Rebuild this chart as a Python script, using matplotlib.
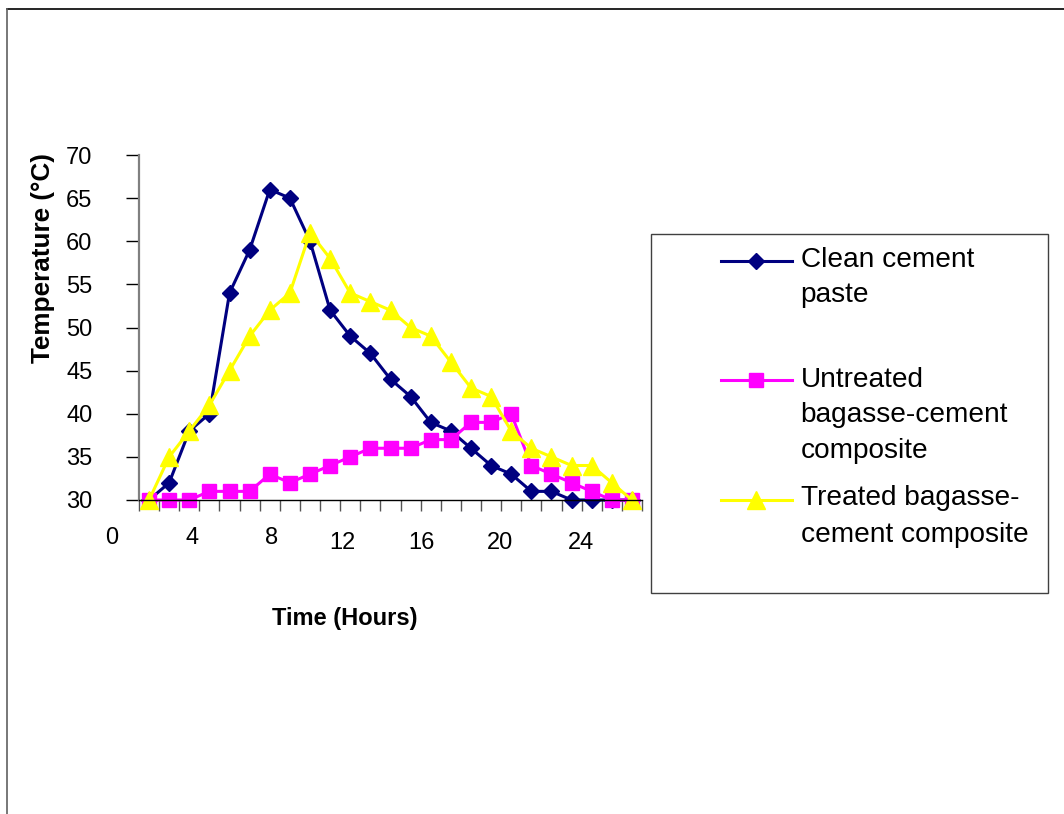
import matplotlib
matplotlib.use("Agg")
import matplotlib.pyplot as plt
from matplotlib.lines import Line2D
from matplotlib.patches import Rectangle

plt.rcParams['font.family'] = ['Liberation Sans', 'DejaVu Sans']

# ---- data ----
clean_cement = [30, 32, 38, 40, 54, 59, 66, 65, 60, 52, 49, 47, 44, 42, 39, 38,
                36, 34, 33, 31, 31, 30, 30, 30, 30]
untreated = [30, 30, 30, 31, 31, 31, 33, 32, 33, 34, 35, 36, 36, 36, 37, 37,
             39, 39, 40, 34, 33, 32, 31, 30, 30]
treated = [30, 35, 38, 41, 45, 49, 52, 54, 61, 58, 54, 53, 52, 50, 49, 46,
           43, 42, 38, 36, 35, 34, 34, 32, 30]
x_tick_labels = ["0", "4", "8", "12", "16", "20", "24"]
y_ticks = [30, 35, 40, 45, 50, 55, 60, 65, 70]
series_names = ["Clean cement\npaste",
                "Untreated\nbagasse-cement\ncomposite",
                "Treated bagasse-\ncement composite"]

W, H = 1064, 814
fig = plt.figure(figsize=(W / 100, H / 100), dpi=100)

def fx(px):
    return px / W

def fy(py):
    return 1 - py / H

ax_l, ax_r, ax_t, ax_b = 139, 642, 155, 500
ax = fig.add_axes([fx(ax_l), fy(ax_b), fx(ax_r) - fx(ax_l), (ax_b - ax_t) / H])

n = len(clean_cement)
xs = [i + 0.5 for i in range(n)]
colors = ["#000080", "#FF00FF", "#FFFF00"]
markers = ["D", "s", "^"]
msizes = [8.5, 9.5, 12.5]
for vals, c, m, ms in zip([clean_cement, untreated, treated], colors, markers, msizes):
    ax.plot(xs, vals, color=c, lw=2.2, marker=m, markersize=ms,
            markerfacecolor=c, markeredgecolor=c, clip_on=False)

ax.set_xlim(0, n)
ax.set_ylim(30, 70)
ax.set_xticks(range(0, n + 1))
ax.set_xticklabels([])
ax.set_yticks(y_ticks)
ax.set_yticklabels([str(v) for v in y_ticks], fontsize=17)
ax.tick_params(axis='y', direction='out', length=9.5, width=1, color='black', pad=24)
ax.tick_params(axis='x', direction='out', length=8, width=1, color='#555555')
for s in ['top', 'right']:
    ax.spines[s].set_visible(False)
ax.spines['left'].set_color('#808080')
ax.spines['left'].set_linewidth(1.6)
ax.spines['bottom'].set_color('black')
ax.spines['bottom'].set_linewidth(1.0)

# x tick labels as placed in the original
lab_px = [(111.7, 537.7), (192.3, 537.7), (271.7, 537.7), (342.7, 543),
          (421.7, 543), (500, 543), (580.7, 543)]
for lab, (px, py) in zip(x_tick_labels, lab_px):
    fig.text(fx(px), fy(py), lab, fontsize=17, ha='center', va='center')

# axis titles
fig.text(fx(345), fy(619), "Time (Hours)", fontsize=17, fontweight='bold',
         ha='center', va='center')
fig.text(fx(43), fy(258), "Temperature (°C)", fontsize=18.8, fontweight='bold',
         rotation=90, ha='center', va='center')

# legend (manual)
fig.patches.append(Rectangle((fx(650.7), fy(592.7)), fx(1048.3) - fx(650.7),
                             (592.7 - 234) / H, transform=fig.transFigure,
                             facecolor='white', edgecolor='#404040', lw=1.0))
handle_y = [260.7, 380, 500]
text_baselines = [[266.7, 301.7], [386.7, 422.2, 458.3], [505, 541.7]]
for name, c, m, ms, hy, bls in zip(series_names, colors, markers, msizes,
                                    handle_y, text_baselines):
    fig.add_artist(Line2D([fx(721), fx(792)], [fy(hy), fy(hy)], color=c, lw=2.2,
                          transform=fig.transFigure))
    fig.add_artist(Line2D([fx(756)], [fy(hy)], color=c, marker=m, markersize=ms,
                          markerfacecolor=c, markeredgecolor=c,
                          transform=fig.transFigure))
    for line, bl in zip(name.split("\n"), bls):
        fig.text(fx(800.7), fy(bl), line, fontsize=20.2, ha='left', va='baseline')

# outer frame lines
fig.add_artist(Line2D([fx(7.3), fx(1064)], [fy(9.3), fy(9.3)], color='black', lw=1.2,
                      transform=fig.transFigure))
fig.add_artist(Line2D([fx(7.3), fx(7.3)], [fy(9.3), fy(814)], color='#606060', lw=1.2,
                      transform=fig.transFigure))

fig.savefig("out.png", dpi=100)
